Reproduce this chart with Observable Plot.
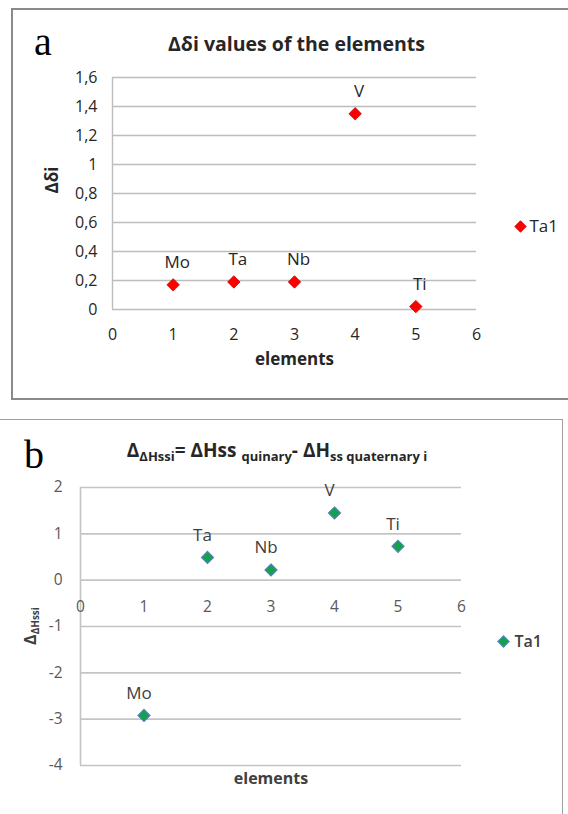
<!DOCTYPE html>
<html><head><meta charset="utf-8">
<script src="https://cdn.jsdelivr.net/npm/d3@7"></script>
<script src="https://cdn.jsdelivr.net/npm/@observablehq/plot@0.6"></script>
<style>
body{margin:0;background:#fff;}
#page{position:relative;width:568px;height:814px;overflow:hidden;font-family:"Open Sans",sans-serif;background:#fff;}
.panel{position:absolute;}
.frame{position:absolute;box-sizing:border-box;}
</style></head><body><div id="page"></div>
<script>
// ---- data ----
const elements = ["Mo", "Ta", "Nb", "V", "Ti"];
const elementIndex = [1, 2, 3, 4, 5];
const deltaDelta = [0.17, 0.19, 0.19, 1.35, 0.02];      // panel a: Δδi
const deltaHss = [-2.92, 0.49, 0.22, 1.45, 0.73];        // panel b: Δ ΔHssi
const xTicks = [0, 1, 2, 3, 4, 5, 6];
const yTicksA = [0, 0.2, 0.4, 0.6, 0.8, 1, 1.2, 1.4, 1.6];
const yTicksB = [-4, -3, -2, -1, 0, 1, 2];
const seriesName = "Ta1";
const titleA = "Δδi values of the elements";
const yLabelA = "Δδi";
const xLabel = "elements";
const titleBParts = [["Δ", 0], ["ΔHssi", 1], ["= ΔHss ", 0], ["quinary", 1], ["- ΔH", 0], ["ss quaternary i", 1]];
const yLabelBParts = [["Δ", 0], ["ΔHssi", 1]];

const page = document.getElementById("page");
const dataA = elements.map((e, i) => ({el: e, x: elementIndex[i], y: deltaDelta[i]}));
const dataB = elements.map((e, i) => ({el: e, x: elementIndex[i], y: deltaHss[i]}));
const commaFmt = d => String(d).replace(".", ",");
const plainFmt = d => String(d);

// frames
const fa = document.createElement("div");
fa.className = "frame";
Object.assign(fa.style, {left: "11px", top: "8px", width: "620px", height: "392px", borderLeft: "2px solid #8a8a8a", borderTop: "2px solid #8a8a8a", borderBottom: "2px solid #8a8a8a"});
page.appendChild(fa);
const fb = document.createElement("div");
fb.className = "frame";
Object.assign(fb.style, {left: "-10px", top: "419px", width: "573px", height: "420px", borderTop: "1.5px solid #a0a0a0", borderRight: "1.5px solid #a0a0a0"});
page.appendChild(fb);

// ---- panel a ----
const plotA = Plot.plot({
  width: 568, height: 410,
  marginLeft: 112, marginRight: 92, marginTop: 77, marginBottom: 101,
  x: {domain: [0, 6]},
  y: {domain: [0, 1.6]},
  style: {fontFamily: "'Open Sans', sans-serif", fontSize: "16px", color: "#262626", background: "transparent", overflow: "visible"},
  marks: [
    Plot.ruleY(yTicksA, {stroke: "#bdbdbd", strokeWidth: 1.4}),
    Plot.ruleX([0], {stroke: "#bdbdbd", strokeWidth: 1.4}),
    Plot.axisY(yTicksA, {tickSize: 0, tickPadding: 15, tickFormat: commaFmt, fontSize: 16, label: null}),
    Plot.axisX(xTicks, {tickSize: 0, tickPadding: 19, fontSize: 16, label: null}),
    Plot.dot(dataA, {x: "x", y: "y", symbol: "diamond2", r: 5.6, fill: "#ff0000", stroke: "#c80000", strokeWidth: 0.8}),
    Plot.text(dataA, {x: "x", y: "y", text: "el", dy: -22, dx: 4, fontSize: 17, fill: "#262626"}),
    Plot.text([titleA], {frameAnchor: "top", dx: 2, dy: -40, fontSize: 19.5, fontWeight: "bold", fill: "#262626"}),
    Plot.text([xLabel], {frameAnchor: "bottom", dy: 55, fontSize: 17, fontWeight: "bold", fill: "#262626"}),
    Plot.text([yLabelA], {frameAnchor: "left", dx: -60, rotate: -90, fontSize: 17, fontWeight: "bold", fill: "#262626"}),
    Plot.dot([seriesName], {frameAnchor: "right", dx: 44, dy: 33, symbol: "diamond2", r: 5.2, fill: "#ff0000", stroke: "#c80000", strokeWidth: 0.8}),
    Plot.text([seriesName], {frameAnchor: "right", dx: 53, dy: 33, text: d => d, textAnchor: "start", fontSize: 17, fill: "#262626"})
  ]
});
plotA.classList.add("panel");
plotA.style.left = "0px"; plotA.style.top = "0px";
page.appendChild(plotA);

// ---- panel b ----
const plotB = Plot.plot({
  width: 568, height: 394,
  marginLeft: 80, marginRight: 107, marginTop: 67, marginBottom: 49,
  x: {domain: [0, 6], axis: null},
  y: {domain: [-4, 2]},
  style: {fontFamily: "'Open Sans', sans-serif", fontSize: "15px", color: "#595959", background: "transparent", overflow: "visible"},
  marks: [
    Plot.ruleY(yTicksB, {stroke: "#c4c4c4", strokeWidth: 1.6}),
    Plot.ruleX([0], {stroke: "#c4c4c4", strokeWidth: 1.6}),
    Plot.axisY(yTicksB, {tickSize: 0, tickPadding: 18, tickFormat: plainFmt, fontSize: 15.5, label: null}),
    Plot.text(xTicks, {x: d => d, y: () => 0, dy: 27, fontSize: 15.5, fill: "#595959"}),
    Plot.dot(dataB, {x: "x", y: "y", symbol: "diamond2", r: 5.4, fill: "#15a04a", stroke: "#4f81bd", strokeWidth: 1.2}),
    Plot.text(dataB, {x: "x", y: "y", text: "el", dy: -22, dx: -5, fontSize: 17, fill: "#404040"}),
    Plot.text([xLabel], {frameAnchor: "bottom", dy: 18, fontSize: 16, fontWeight: "bold", fill: "#404040"}),
    Plot.dot([seriesName], {frameAnchor: "right", dx: 42, dy: 15, symbol: "diamond2", r: 5, fill: "#15a04a", stroke: "#4f81bd", strokeWidth: 1.2}),
    Plot.text([seriesName], {frameAnchor: "right", dx: 53, dy: 15, text: d => d, textAnchor: "start", fontSize: 16, fontWeight: "600", fill: "#404040"})
  ]
});
plotB.classList.add("panel");
plotB.style.left = "0px"; plotB.style.top = "420px";
page.appendChild(plotB);

// ---- overlay text (panel letters, subscripted titles) ----
const ov = d3.create("svg").attr("width", 568).attr("height", 814)
  .style("position", "absolute").style("left", "0px").style("top", "0px").style("overflow", "visible");
ov.append("text").attr("x", 34).attr("y", 55).attr("font-family", "'Liberation Serif', serif").attr("font-size", 40).attr("fill", "#000").text("a");
ov.append("text").attr("x", 24).attr("y", 468).attr("font-family", "'Liberation Serif', serif").attr("font-size", 40).attr("fill", "#000").text("b");

function richText(sel, parts, main, sub, shift) {
  let cur = 0;
  parts.forEach(([t, s]) => {
    const target = s ? shift : 0;
    sel.append("tspan").attr("dy", target - cur).attr("font-size", s ? sub : main).text(t);
    cur = target;
  });
}
const tb = ov.append("text").attr("x", 277).attr("y", 457).attr("text-anchor", "middle")
  .attr("font-family", "'Open Sans', sans-serif").attr("font-weight", "bold").attr("fill", "#262626");
richText(tb, titleBParts, 19, 13, 4);
const yb = ov.append("text").attr("transform", "translate(36,626) rotate(-90)").attr("text-anchor", "middle")
  .attr("font-family", "'Open Sans', sans-serif").attr("font-weight", "bold").attr("fill", "#404040");
richText(yb, yLabelBParts, 16, 10, 3);
page.appendChild(ov.node());
</script>
</body></html>
